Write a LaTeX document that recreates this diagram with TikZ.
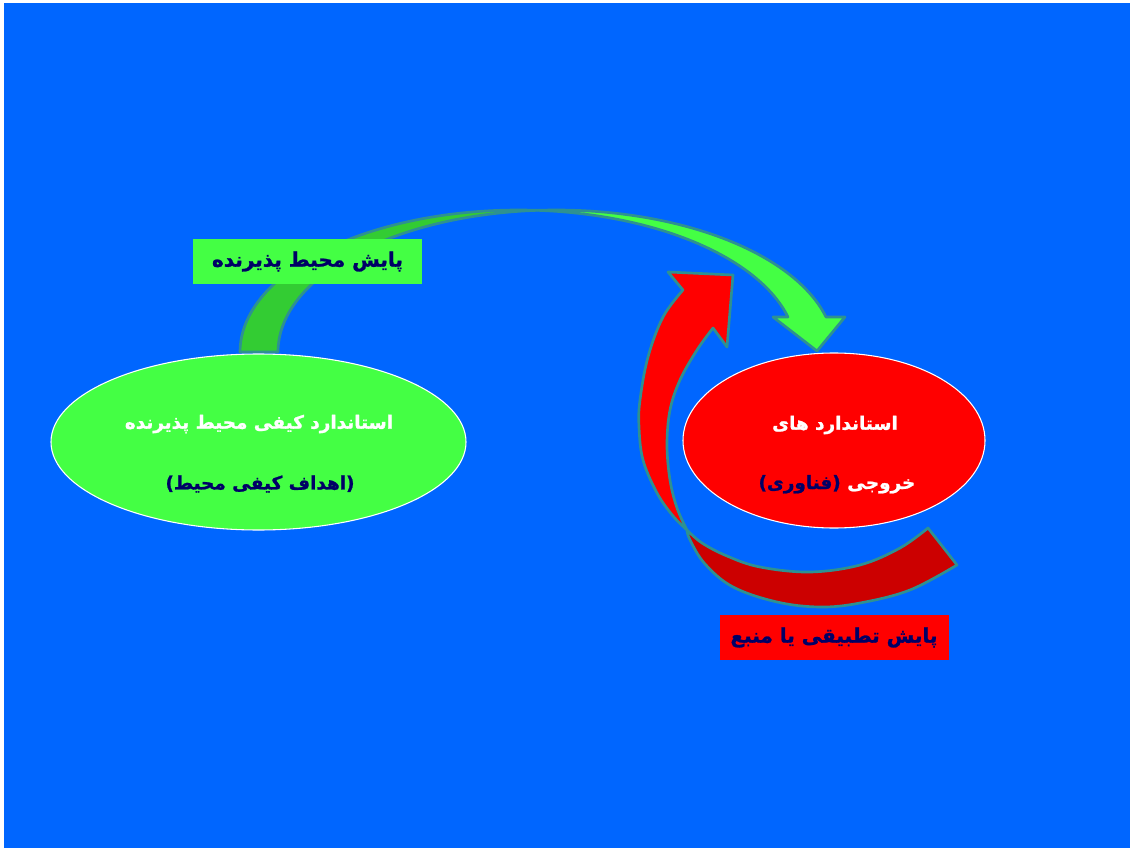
\documentclass[tikz,border=0pt]{standalone}
\usepackage{fontspec}
\usetikzlibrary{shapes.geometric}
\newfontfamily\arabicfont[Script=Arabic,BoldFeatures={FakeBold=1.2}]{DejaVu Sans}
\TeXXeTstate=1
\definecolor{bg}{RGB}{0,102,255}
\definecolor{lgreen}{RGB}{68,255,68}
\definecolor{dgreen}{RGB}{51,204,51}
\definecolor{dred}{RGB}{204,0,0}
\definecolor{edgec}{RGB}{46,145,145}
\definecolor{navy}{RGB}{0,0,102}
\begin{document}
\begin{tikzpicture}[x=0.75pt,y=-0.75pt,
  band/.style={draw=edgec,line width=2pt,line join=round},
  oval/.style={ellipse,draw=white,line width=0.8pt,inner sep=0pt},
  txt/.style={font=\arabicfont\bfseries\fontsize{13.8}{17}\selectfont,inner sep=0pt},
  tag/.style={inner sep=0pt,minimum width=171.75pt,minimum height=33.75pt,font=\arabicfont\bfseries\fontsize{15}{18}\selectfont,text=navy}]
\useasboundingbox (0,0) rectangle (1130,848);
\fill[white] (0,0) rectangle (1130,848);
\fill[bg] (4,3) rectangle (1130,848);
% green curved arrow
\path[band,fill=dgreen] plot[domain=180:86.08,samples=60,variable=\t] ({518.3+278.3*cos(\t)},{352-142*sin(\t)})
  -- plot[domain=93.92:180,samples=60,variable=\t] ({556.3+278.3*cos(\t)},{352-142*sin(\t)}) -- cycle;
\path[band,fill=lgreen] plot[domain=93.92:14.27,samples=60,variable=\t] ({556.3+278.3*cos(\t)},{352-142*sin(\t)})
  -- (845,317) -- (817,351) -- (773,317)
  -- plot[domain=14.27:86.08,samples=60,variable=\t] ({518.3+278.3*cos(\t)},{352-142*sin(\t)}) -- cycle;
% red curved arrow
\path[band,fill=dred] plot[smooth,tension=0.6] coordinates {(687,530) (702,543) (727,556) (760,567) (810,572) (860,565) (900,548) (928,528)}
  -- (957,565)
  -- plot[smooth,tension=0.6] coordinates {(957,565) (910,590) (860,603) (820,607) (777,602) (733,587) (705,564) (690,540) (687,530)} -- cycle;
\path[band,fill=red] (668,272) -- (733,275) -- (727,347) -- (713,328)
  -- plot[smooth,tension=0.6] coordinates {(713,328) (697,350) (680,380) (670,410) (667,445) (670,480) (677,508) (687,530)}
  -- plot[smooth,tension=0.6] coordinates {(687,530) (673,516) (657,493) (643,460) (639,427) (640,400) (648,357) (663,317) (683,290)} -- cycle;
% ellipses
\node[oval,fill=lgreen,minimum width=311.25pt,minimum height=132pt] (G) at (258.5,442) {};
\node[oval,fill=red,minimum width=226.5pt,minimum height=131.25pt] (R) at (834,440.5) {};
\node[txt,text=white] (g1) at (259,424) {\beginR استاندارد کیفی محیط پذیرنده\endR};
\node[txt,text=navy] (g2) at (260,484) {\beginR (اهداف کیفی محیط)\endR};
\node[txt,text=white] (r1) at (835,425) {\beginR استاندارد های\endR};
\node[txt,text=white,anchor=base west] (r2a) at (847,489) {\beginR خروجی\endR};
\node[txt,text=navy,anchor=base east] (r2b) at (841,489) {\beginR (فناوری)\endR};
% labels
\node[tag,fill=lgreen] (l1) at (307.5,261.5) {\beginR پایش محیط پذیرنده\endR};
\node[tag,fill=red] (l2) at (834,637.5) {\beginR پایش تطبیقی یا منبع\endR};
\end{tikzpicture}
\end{document}
